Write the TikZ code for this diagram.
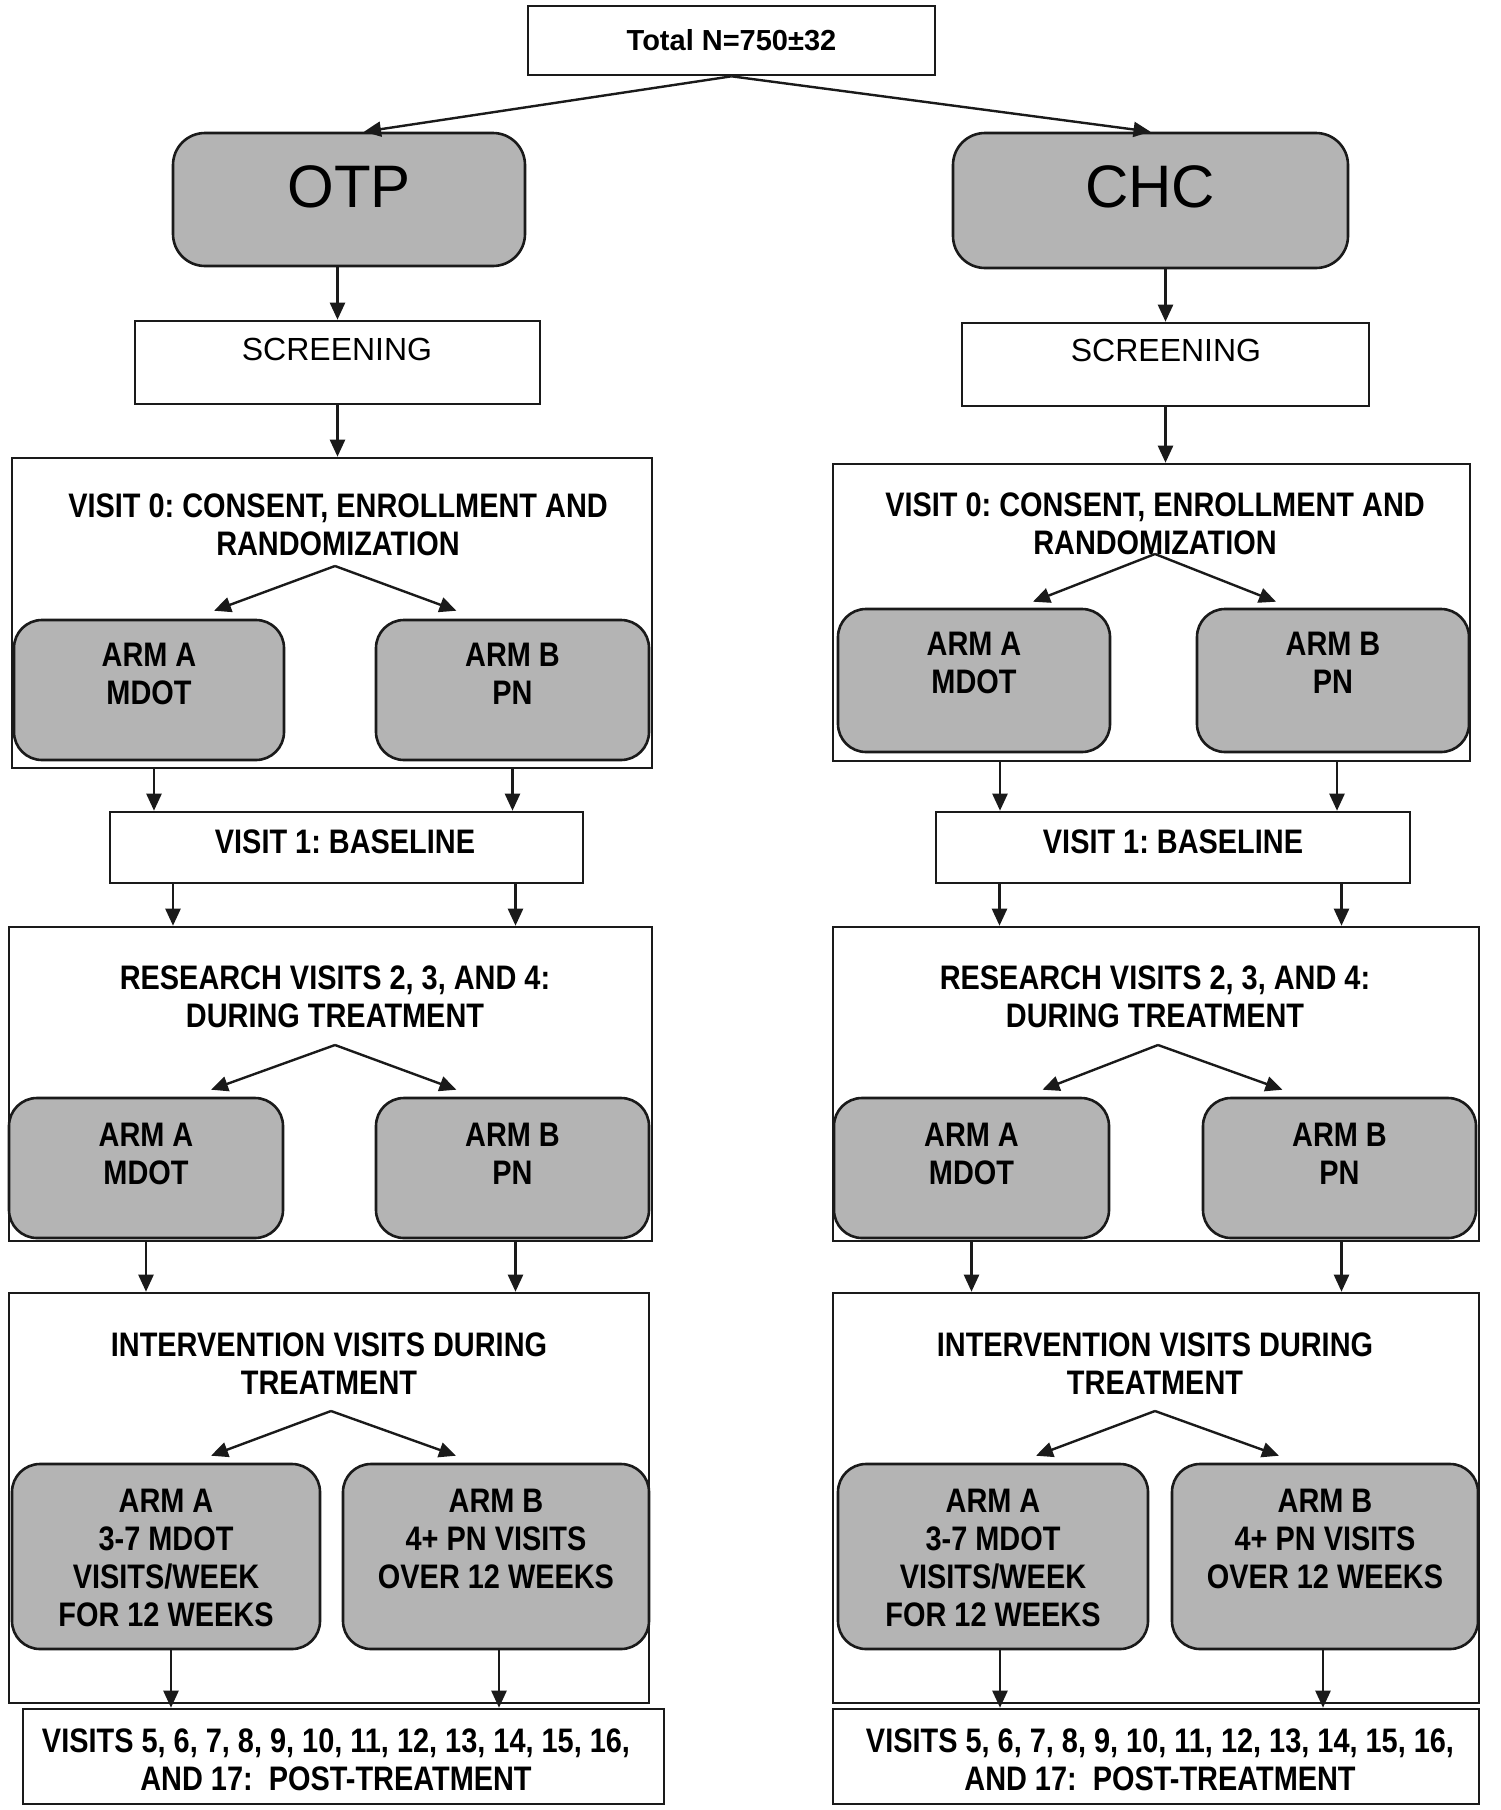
\documentclass[tikz,border=0pt]{standalone}
\usepackage{fontspec}
\setmainfont{Liberation Sans}
\newfontfamily\nar[FakeStretch=0.85]{Liberation Sans}
\usetikzlibrary{arrows.meta,calc}
\definecolor{grayfill}{HTML}{B4B4B4}
\definecolor{edge}{HTML}{1A1A1A}
\frenchspacing
\begin{document}
\begin{tikzpicture}[x=0.5pt,y=-0.5pt,
  wh/.style 2 args={minimum width=#1*0.5pt, minimum height=#2*0.5pt},
  box/.style={draw=edge, line width=1.3pt, fill=white, inner sep=0pt},
  armbox/.style={box, fill=grayfill, rounded corners=14pt},
  arr/.style={-{Triangle[length=8.5pt,width=7.5pt]}, line width=1.2pt, draw=edge},
  txt/.style={font=\nar\bfseries\fontsize{17}{19}\selectfont, align=center, inner sep=0pt},
  armtxt/.style={txt, anchor=north},
  reg/.style={font=\fontsize{16}{19}\selectfont, inner sep=0pt}]
\useasboundingbox (0,0) rectangle (1500,1810);
\fill[white] (0,0) rectangle (1500,1810);

% top
\node[box, wh={407}{69}, font=\bfseries\fontsize{14.5}{17}\selectfont] (tot) at (731.5,40.5) {Total N=750±32};
\node[armbox, wh={352}{133}, rounded corners=16pt] (otp) at (349,199.5) {};
\node[font=\fontsize{30}{32}\selectfont, inner sep=0pt] (otpT) at (349,187) {OTP};
\node[armbox, wh={395}{135}, rounded corners=16pt] (chc) at (1150.5,200.5) {};
\node[font=\fontsize{30}{32}\selectfont, inner sep=0pt] (chcT) at (1150,187) {CHC};

\node[box, wh={405}{83}] (scrL) at (337.5,362.5) {};
\node[reg] (scrLT) at (337,349) {SCREENING};
\node[box, wh={407}{83}] (scrR) at (1165.5,364.5) {};
\node[reg] (scrRT) at (1166,350) {SCREENING};

% visit 0
\node[box, wh={640}{310}] (v0L) at (332,613) {};
\node[txt] (v0LT) at (338,525) {VISIT 0: CONSENT, ENROLLMENT AND\\RANDOMIZATION};
\node[armbox, wh={270}{140}] (A0L) at (149,690) {};
\node[armtxt] (A0LT) at (149,643) {ARM A\\MDOT};
\node[armbox, wh={273}{140}] (B0L) at (512.5,690) {};
\node[armtxt] (B0LT) at (512.5,643) {ARM B\\PN};

\node[box, wh={637}{297}] (v0R) at (1151.5,612.5) {};
\node[txt] (v0RT) at (1155,524) {VISIT 0: CONSENT, ENROLLMENT AND\\RANDOMIZATION};
\node[armbox, wh={272}{143}] (A0R) at (974,680.5) {};
\node[armtxt] (A0RT) at (974,632) {ARM A\\MDOT};
\node[armbox, wh={272}{143}] (B0R) at (1333,680.5) {};
\node[armtxt] (B0RT) at (1333,632) {ARM B\\PN};

% visit 1
\node[box, wh={473}{71}] (v1L) at (346.5,847.5) {};
\node[txt] (v1LT) at (345,842) {VISIT 1: BASELINE};
\node[box, wh={474}{71}] (v1R) at (1173,847.5) {};
\node[txt] (v1RT) at (1173,842) {VISIT 1: BASELINE};

% research visits
\node[box, wh={643}{314}] (rL) at (330.5,1084) {};
\node[txt] (rLT) at (335,997) {RESEARCH VISITS 2, 3, AND 4:\\DURING TREATMENT};
\node[armbox, wh={274}{140}] (A2L) at (146,1168) {};
\node[armtxt] (A2LT) at (146,1123) {ARM A\\MDOT};
\node[armbox, wh={273}{140}] (B2L) at (512.5,1168) {};
\node[armtxt] (B2LT) at (512.5,1123) {ARM B\\PN};

\node[box, wh={646}{314}] (rR) at (1156,1084) {};
\node[txt] (rRT) at (1155,997) {RESEARCH VISITS 2, 3, AND 4:\\DURING TREATMENT};
\node[armbox, wh={275}{140}] (A2R) at (971.5,1168) {};
\node[armtxt] (A2RT) at (971.5,1123) {ARM A\\MDOT};
\node[armbox, wh={273}{140}] (B2R) at (1339.5,1168) {};
\node[armtxt] (B2RT) at (1339.5,1123) {ARM B\\PN};

% intervention visits
\node[box, wh={640}{410}] (iL) at (329,1498) {};
\node[txt] (iLT) at (329,1363.5) {INTERVENTION VISITS DURING\\TREATMENT};
\node[armbox, wh={308}{185}] (A3L) at (166,1556.5) {};
\node[armtxt] (A3LT) at (166,1489) {ARM A\\3-7 MDOT\\VISITS/WEEK\\FOR 12 WEEKS};
\node[armbox, wh={306}{185}] (B3L) at (496,1556.5) {};
\node[armtxt] (B3LT) at (496,1489) {ARM B\\4+ PN VISITS\\OVER 12 WEEKS};

\node[box, wh={646}{410}] (iR) at (1156,1498) {};
\node[txt] (iRT) at (1155,1363.5) {INTERVENTION VISITS DURING\\TREATMENT};
\node[armbox, wh={310}{185}] (A3R) at (993,1556.5) {};
\node[armtxt] (A3RT) at (993,1489) {ARM A\\3-7 MDOT\\VISITS/WEEK\\FOR 12 WEEKS};
\node[armbox, wh={306}{185}] (B3R) at (1325,1556.5) {};
\node[armtxt] (B3RT) at (1325,1489) {ARM B\\4+ PN VISITS\\OVER 12 WEEKS};

% final
\node[box, wh={641}{95}] (fL) at (343.5,1756.5) {};
\node[txt] (fLT) at (336,1760) {VISITS 5, 6, 7, 8, 9, 10, 11, 12, 13, 14, 15, 16,\\AND 17:\ \ POST-TREATMENT};
\node[box, wh={646}{95}] (fR) at (1156,1756.5) {};
\node[txt] (fRT) at (1160,1760) {VISITS 5, 6, 7, 8, 9, 10, 11, 12, 13, 14, 15, 16,\\AND 17:\ \ POST-TREATMENT};

% split points
\coordinate (s0L) at (335,566);
\coordinate (s0R) at (1155,554);
\coordinate (s2L) at (335,1045);
\coordinate (s2R) at (1158,1045);
\coordinate (s3L) at (331,1411);
\coordinate (s3R) at (1155,1411);

% connectors
\draw[arr] (tot.south) -- ($(otp.north)+(15,0)$);
\draw[arr] (tot.south) -- (chc.north);
\draw[arr] (scrL.north |- otp.south) -- (scrL.north);
\draw[arr] (scrR.north |- chc.south) -- (scrR.north);
\draw[arr] (scrL.south) -- (scrL.south |- v0L.north);
\draw[arr] (scrR.south) -- (scrR.south |- v0R.north);

\draw[arr] (s0L) -- ($(A0L.north)+(65,-8)$);
\draw[arr] (s0L) -- ($(B0L.north)+(-56,-8)$);
\draw[arr] (s0R) -- ($(A0R.north)+(59,-6)$);
\draw[arr] (s0R) -- ($(B0R.north)+(-57,-6)$);

\draw[arr] ($(A0L.south |- v0L.south)+(5,0)$) -- ($(A0L.south |- v1L.north)+(5,0)$);
\draw[arr] (B0L.south |- v0L.south) -- (B0L.south |- v1L.north);
\draw[arr] ($(A0R.south |- v0R.south)+(26,0)$) -- ($(A0R.south |- v1R.north)+(26,0)$);
\draw[arr] ($(B0R.south |- v0R.south)+(4,0)$) -- ($(B0R.south |- v1R.north)+(4,0)$);

\draw[arr] ($(A2L.north |- v1L.south)+(27,0)$) -- ($(A2L.north |- rL.north)+(27,0)$);
\draw[arr] ($(B2L.north |- v1L.south)+(3,0)$) -- ($(B2L.north |- rL.north)+(3,0)$);
\draw[arr] ($(A2R.north |- v1R.south)+(28,0)$) -- ($(A2R.north |- rR.north)+(28,0)$);
\draw[arr] ($(B2R.north |- v1R.south)+(2,0)$) -- ($(B2R.north |- rR.north)+(2,0)$);

\draw[arr] (s2L) -- ($(A2L.north)+(65,-7)$);
\draw[arr] (s2L) -- ($(B2L.north)+(-56,-7)$);
\draw[arr] (s2R) -- ($(A2R.north)+(71,-7)$);
\draw[arr] (s2R) -- ($(B2R.north)+(-57,-7)$);

\draw[arr] (A2L.south |- rL.south) -- (A2L.south |- iL.north);
\draw[arr] ($(B2L.south |- rL.south)+(3,0)$) -- ($(B2L.south |- iL.north)+(3,0)$);
\draw[arr] (A2R.south |- rR.south) -- (A2R.south |- iR.north);
\draw[arr] ($(B2R.south |- rR.south)+(2,0)$) -- ($(B2R.south |- iR.north)+(2,0)$);

\draw[arr] (s3L) -- ($(A3L.north)+(45,-7)$);
\draw[arr] (s3L) -- ($(B3L.north)+(-40,-7)$);
\draw[arr] (s3R) -- ($(A3R.north)+(43,-7)$);
\draw[arr] (s3R) -- ($(B3R.north)+(-46,-7)$);

\draw[arr] ($(A3L.south)+(5,0)$) -- ($(A3L.south |- fL.north)+(5,0)$);
\draw[arr] ($(B3L.south)+(3,0)$) -- ($(B3L.south |- fL.north)+(3,0)$);
\draw[arr] ($(A3R.south)+(7,0)$) -- ($(A3R.south |- fR.north)+(7,0)$);
\draw[arr] ($(B3R.south)+(-2,0)$) -- ($(B3R.south |- fR.north)+(-2,0)$);
\end{tikzpicture}
\end{document}
